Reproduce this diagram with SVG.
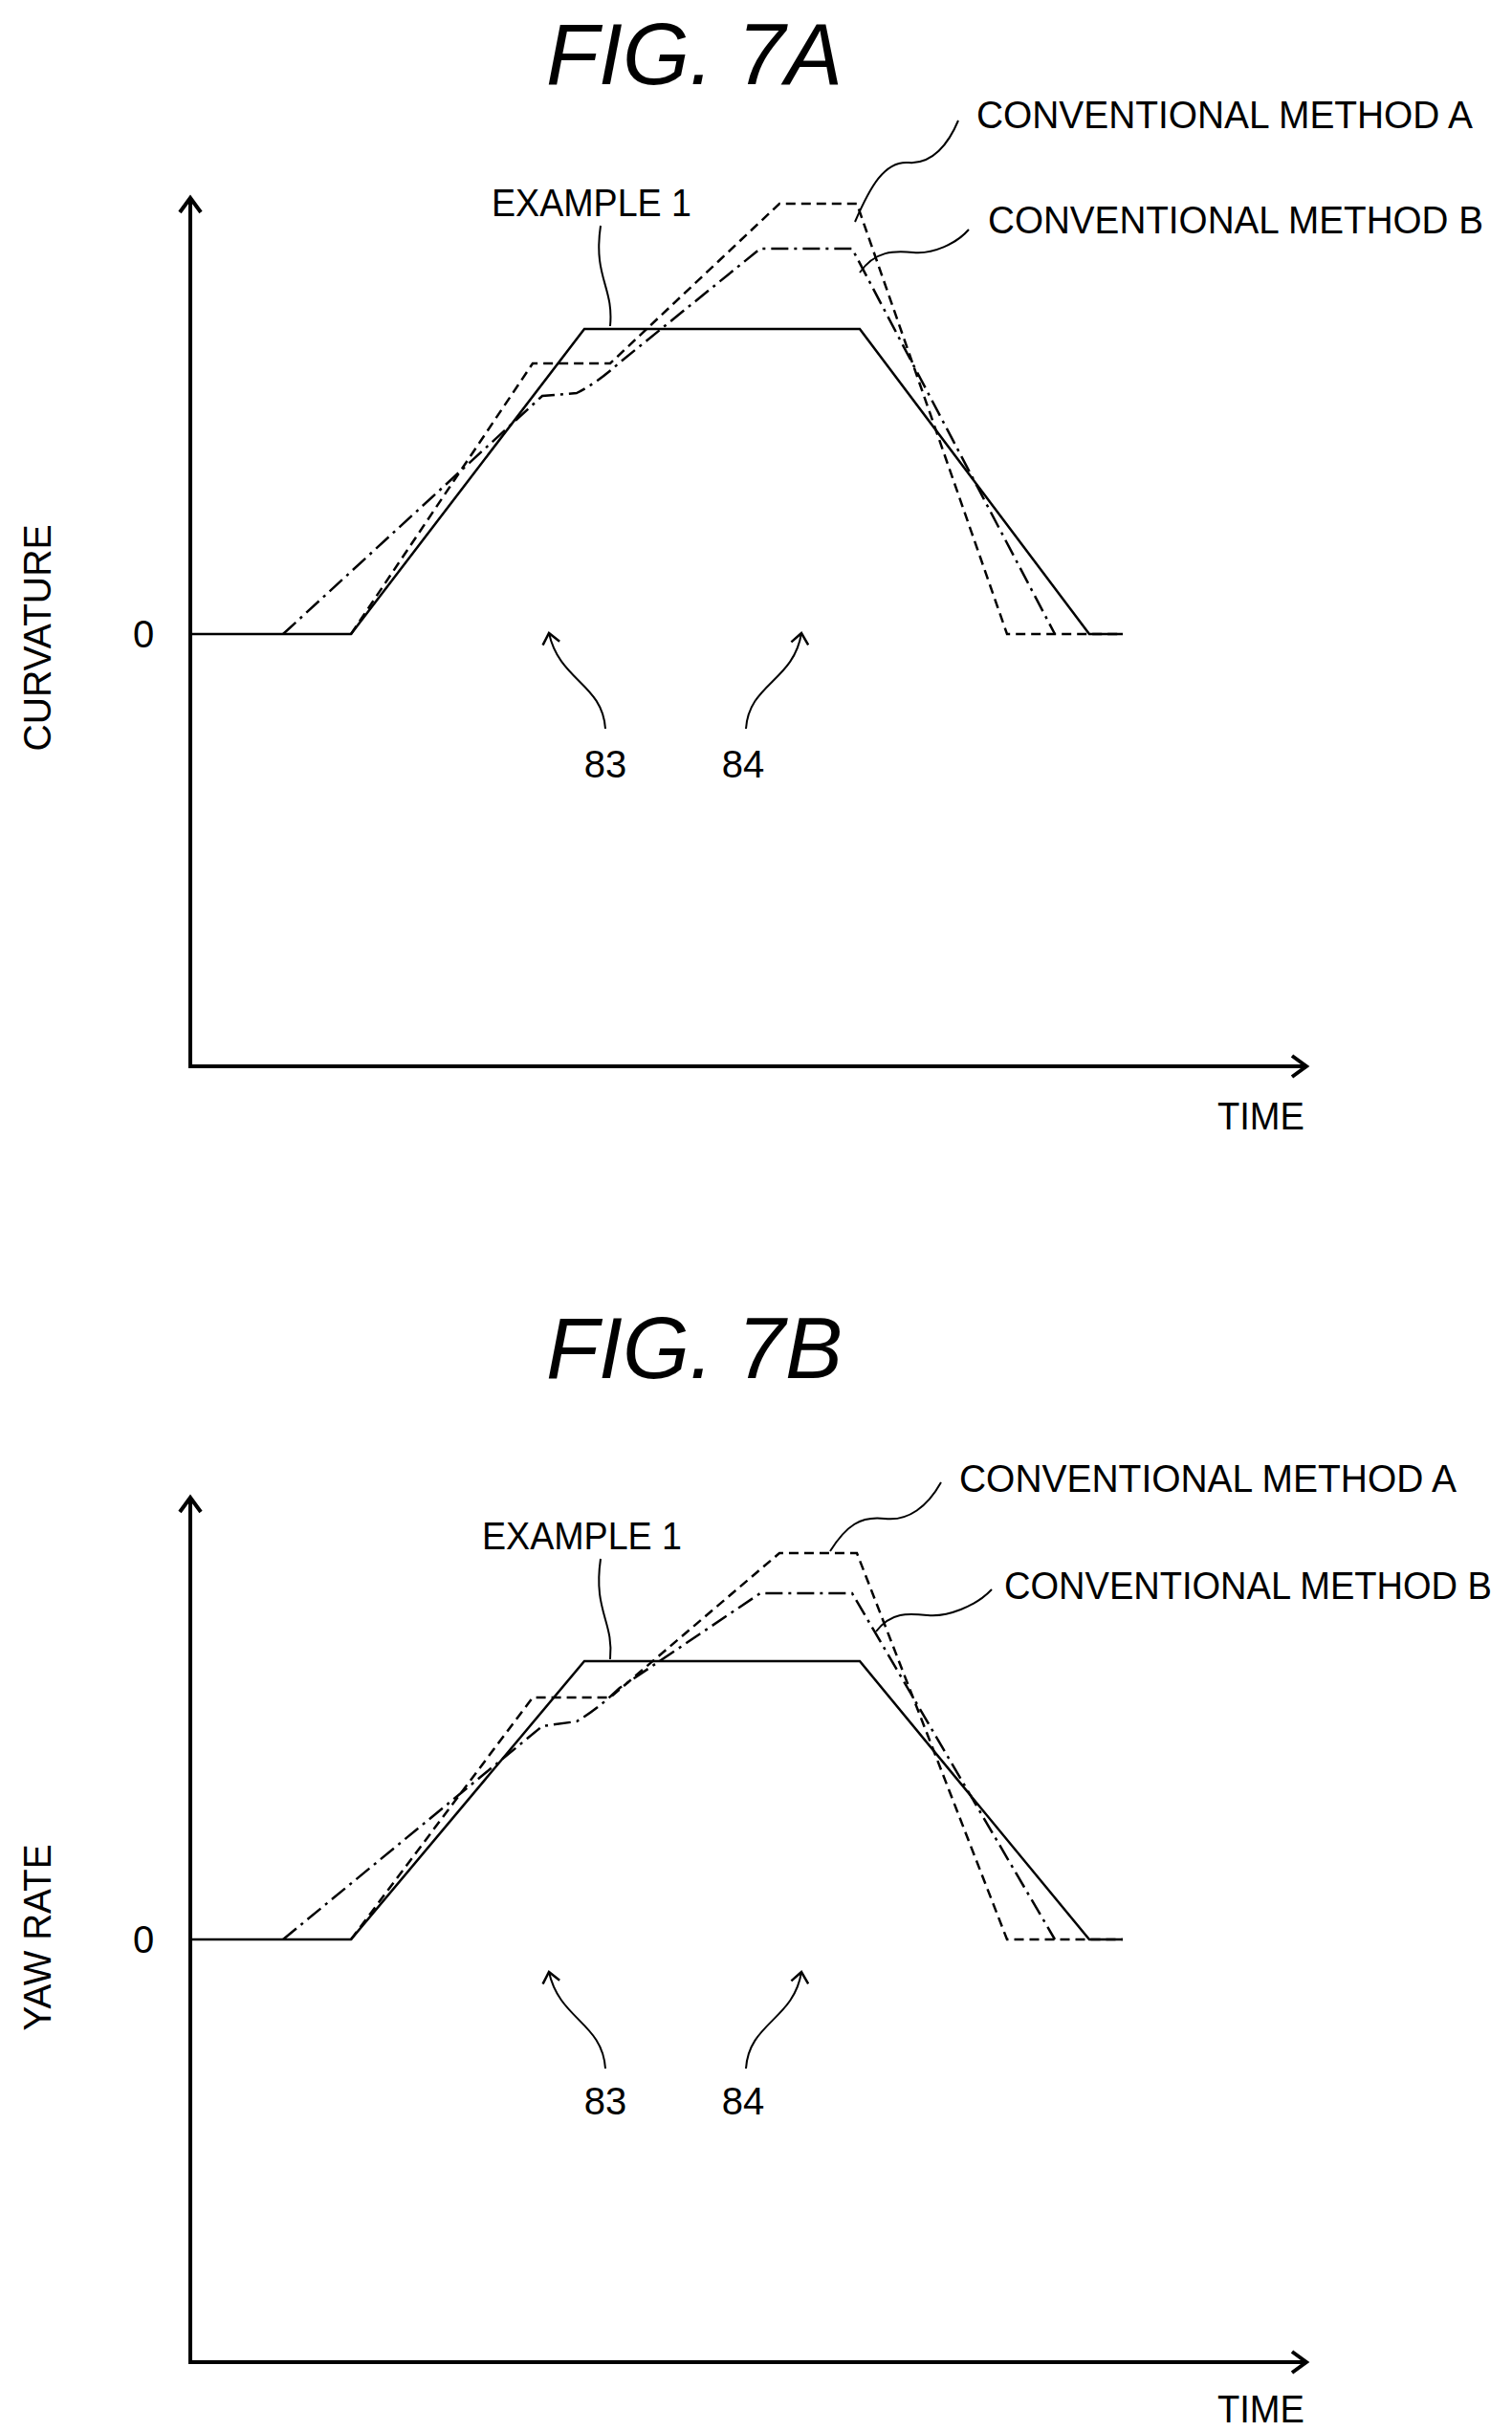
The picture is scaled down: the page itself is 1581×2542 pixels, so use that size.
<svg xmlns="http://www.w3.org/2000/svg" width="1581" height="2542" viewBox="0 0 1581 2542">
<style>
text{font-family:"Liberation Sans",Arial,sans-serif;fill:#000}
.t{font-size:40px}
.title{font-size:90px;font-style:italic;text-anchor:middle}
.axis{stroke:#000;stroke-width:4;fill:none}
.ex{stroke:#000;stroke-width:2.5;fill:none}
.a{stroke:#000;stroke-width:2.5;fill:none;stroke-dasharray:10 6}
.b{stroke:#000;stroke-width:2.5;fill:none;stroke-dasharray:18 6 3 6}
.ld{stroke:#000;stroke-width:2;fill:none}
</style>
<defs>
<marker id="ah" markerWidth="24" markerHeight="26" refX="18" refY="13" orient="auto" markerUnits="userSpaceOnUse"><path d="M3,2 L18,13 L3,24" fill="none" stroke="#000" stroke-width="4"/></marker>
<marker id="sh" markerWidth="16" markerHeight="20" refX="12" refY="10" orient="auto" markerUnits="userSpaceOnUse"><path d="M1,1 L12,10 L1,19" fill="none" stroke="#000" stroke-width="2.5"/></marker>
</defs>
<g id="figA">
<text class="title" x="726" y="88">FIG. 7A</text>
<g id="axesA"><path class="axis" d="M199,1115 L199,207" marker-end="url(#ah)"/><path class="axis" d="M197,1115 L1366,1115" marker-end="url(#ah)"/></g>
<text class="t" x="150" y="677" text-anchor="middle">0</text>
<text class="t" transform="translate(53,667) rotate(-90)" text-anchor="middle" textLength="237" lengthAdjust="spacingAndGlyphs">CURVATURE</text>
<text class="t" x="1273" y="1181" textLength="91" lengthAdjust="spacingAndGlyphs">TIME</text>
<g id="curvesA">
<path class="ex" d="M199,663 L367,663 L611,344 L899,344 L1139,663 L1174,663"/>
<path class="a" d="M367,663 L557,380 L638,380 L815,213 L896,213 L1053,663 L1174,663"/>
<path class="b" d="M296,663 L567,414 L603,411 Q625,400 648,379 L795,260 L891,260 L1103,663"/>
</g>
<g id="labelsA">
<text class="t" x="514" y="226" textLength="209" lengthAdjust="spacingAndGlyphs">EXAMPLE 1</text>
<text class="t" x="1021" y="134" textLength="519" lengthAdjust="spacingAndGlyphs">CONVENTIONAL METHOD A</text>
<text class="t" x="1033" y="244" textLength="518" lengthAdjust="spacingAndGlyphs">CONVENTIONAL METHOD B</text>
<path class="ld" d="M638,341 C642,300 620,290 628,236"/>
<path class="ld" d="M894,232 C910,195 925,168 950,170 C975,172 992,150 1002,126"/>
<path class="ld" d="M899,285 C915,262 935,262 955,264 C975,266 1000,255 1013,240"/>
<path class="ld" d="M633,762 C630,715 585,712 574,662" marker-end="url(#sh)"/>
<path class="ld" d="M780,762 C783,715 830,712 838,662" marker-end="url(#sh)"/>
<text class="t" x="633" y="813" text-anchor="middle">83</text>
<text class="t" x="777" y="813" text-anchor="middle">84</text>
</g>
</g>
<g id="figB">
<text class="title" x="726" y="1441">FIG. 7B</text>
<g id="axesB"><path class="axis" d="M199,2470 L199,1566" marker-end="url(#ah)"/><path class="axis" d="M197,2470 L1366,2470" marker-end="url(#ah)"/></g>
<text class="t" x="150" y="2042" text-anchor="middle">0</text>
<text class="t" transform="translate(53,2026) rotate(-90)" text-anchor="middle" textLength="195" lengthAdjust="spacingAndGlyphs">YAW RATE</text>
<text class="t" x="1273" y="2533" textLength="91" lengthAdjust="spacingAndGlyphs">TIME</text>
<g id="curvesB">
<path class="ex" d="M199,2028 L367,2028 L611,1737 L899,1737 L1139,2028 L1174,2028"/>
<path class="a" d="M367,2028 L557,1775 L638,1775 L815,1624 L896,1624 L1053,2028 L1174,2028"/>
<path class="b" d="M296,2028 L567,1805 L603,1800 Q625,1787 648,1765 L795,1666 L891,1666 L1103,2028"/>
</g>
<g id="labelsB">
<text class="t" x="504" y="1620" textLength="209" lengthAdjust="spacingAndGlyphs">EXAMPLE 1</text>
<text class="t" x="1003" y="1560" textLength="520" lengthAdjust="spacingAndGlyphs">CONVENTIONAL METHOD A</text>
<text class="t" x="1050" y="1672" textLength="510" lengthAdjust="spacingAndGlyphs">CONVENTIONAL METHOD B</text>
<path class="ld" d="M638,1735 C642,1695 620,1685 628,1630"/>
<path class="ld" d="M868,1622 C885,1595 900,1585 925,1588 C950,1591 970,1575 984,1550"/>
<path class="ld" d="M916,1706 C932,1685 950,1687 970,1689 C990,1691 1020,1680 1037,1662"/>
<path class="ld" d="M633,2163 C630,2115 585,2112 574,2062" marker-end="url(#sh)"/>
<path class="ld" d="M780,2163 C783,2115 830,2112 838,2062" marker-end="url(#sh)"/>
<text class="t" x="633" y="2211" text-anchor="middle">83</text>
<text class="t" x="777" y="2211" text-anchor="middle">84</text>
</g>
</g>
</svg>
